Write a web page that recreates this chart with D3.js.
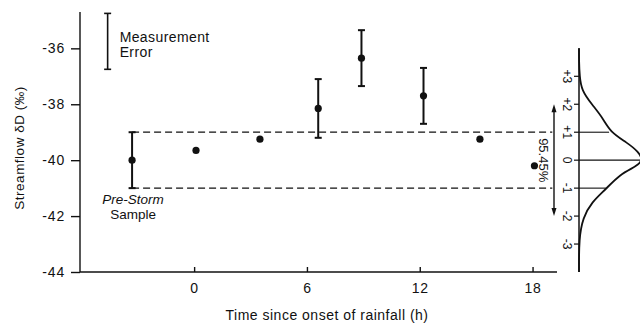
<!DOCTYPE html>
<html>
<head>
<meta charset="utf-8">
<script src="https://cdn.jsdelivr.net/npm/d3@7"></script>
<style>
  html, body { margin: 0; padding: 0; background: #fff; }
  svg { display: block; font-family: "Liberation Sans", Arial, sans-serif; }
  .axis path, .axis line { stroke: #111; stroke-width: 1.4; }
  .axis text { fill: #111; font-size: 14px; letter-spacing: 0.8px; }
</style>
</head>
<body>
<div id="chart"></div>
<script>
// samples: hours since onset of rainfall, streamflow dD (per mil), error (0 = no bar)
const times = [-3.3, 0.1, 3.5, 6.6, 8.9, 12.2, 15.2, 18.1];
const deltaD = [-40.0, -39.65, -39.25, -38.15, -36.35, -37.7, -39.25, -40.2];
const errors = [1.0, 0, 0, 1.05, 1.0, 1.0, 0, 0];

const xTicks = [0, 6, 12, 18];
const yTicks = [-36, -38, -40, -42, -44];

// pre-storm band (+-1 sigma) and its extent in time
const bandValues = [-39, -41];
const bandTime = [-3.3, 19.05];

// measurement error key
const errKeyTime = -4.6;
const errKeyValue = -35.75;
const errKeySize = 1.0;

// normal distribution panel (sigma units around the pre-storm mean)
const stormMean = -40;
const sigmaTicks = [3, 2, 1, 0, -1, -2, -3];
const sigmaLabels = ["+3", "+2", "+1", "0", "-1", "-2", "-3"];
const curveZ = [4.0, 3.55, 3.0, 2.5, 2.0, 1.5, 1.0, 0.63, 0.3, 0, -0.22, -0.5, -1.06, -1.5, -2.06, -2.8, -4.0];
const curveDensity = [0, 0, 0.01, 0.04, 0.2, 0.375, 0.49, 0.75, 0.93, 1, 0.9, 0.64, 0.41, 0.2, 0.06, 0, 0];
const guideZ = [1, 0, -1];
const guideDensity = [0.47, 1, 0.42];
const arrowZ = [2, -2];

const width = 640, height = 323;

const svg = d3.select("#chart")
  .append("svg")
  .attr("width", width)
  .attr("height", height);

const x = d3.scaleLinear().domain([-6.07, 19.3]).range([80, 557]);
const y = d3.scaleLinear().domain([-44, -34.7]).range([272, 12]);
const dens = d3.scaleLinear().domain([0, 1]).range([579, 643]);
const ink = "#111";

// Y axis
const yAxis = svg.append("g")
  .attr("class", "axis")
  .attr("transform", `translate(${x(-6.07)},0)`)
  .call(d3.axisLeft(y).tickValues(yTicks).tickSize(9).tickPadding(6).tickFormat(d => d));
yAxis.select(".domain").remove();
yAxis.append("line")
  .attr("y1", y(-34.7)).attr("y2", y(-44))
  .attr("stroke", ink).attr("stroke-width", 1.4);

// X axis, ticks point inward
const xAxis = svg.append("g")
  .attr("class", "axis")
  .attr("transform", `translate(0,${y(-44)})`)
  .call(d3.axisBottom(x).tickValues(xTicks).tickSizeInner(-5).tickSizeOuter(0).tickPadding(11));
xAxis.select(".domain").remove();
xAxis.append("line")
  .attr("x1", x(-6.07)).attr("x2", x(19.3))
  .attr("stroke", ink).attr("stroke-width", 1.4);

svg.append("text")
  .attr("x", 327)
  .attr("y", 320)
  .attr("text-anchor", "middle")
  .style("font-size", "14px")
  .style("letter-spacing", "0.5px")
  .attr("fill", ink)
  .text("Time since onset of rainfall (h)");

svg.append("text")
  .attr("transform", "translate(24,148) rotate(-90)")
  .attr("text-anchor", "middle")
  .style("font-size", "13.5px")
  .style("letter-spacing", "0.5px")
  .attr("fill", ink)
  .text("Streamflow \u03b4D (\u2030)");

// dashed pre-storm band
svg.append("g")
  .selectAll("line")
  .data(bandValues)
  .enter()
  .append("line")
  .attr("x1", x(bandTime[0]))
  .attr("x2", x(bandTime[1]))
  .attr("y1", d => y(d))
  .attr("y2", d => y(d))
  .attr("stroke", ink)
  .attr("stroke-width", 1.3)
  .attr("stroke-dasharray", "7,4");

// samples
const samples = times.map((t, i) => ({ t: t, v: deltaD[i], e: errors[i] }));
const cap = 3.5;

const bars = svg.append("g")
  .selectAll("g")
  .data(samples.filter(d => d.e > 0))
  .enter()
  .append("g")
  .attr("stroke", ink)
  .attr("stroke-width", 2);
bars.append("line")
  .attr("x1", d => x(d.t)).attr("x2", d => x(d.t))
  .attr("y1", d => y(d.v + d.e)).attr("y2", d => y(d.v - d.e));
bars.append("line")
  .attr("x1", d => x(d.t) - cap).attr("x2", d => x(d.t) + cap)
  .attr("y1", d => y(d.v + d.e)).attr("y2", d => y(d.v + d.e));
bars.append("line")
  .attr("x1", d => x(d.t) - cap).attr("x2", d => x(d.t) + cap)
  .attr("y1", d => y(d.v - d.e)).attr("y2", d => y(d.v - d.e));

svg.append("g")
  .selectAll("circle")
  .data(samples)
  .enter()
  .append("circle")
  .attr("cx", d => x(d.t))
  .attr("cy", d => y(d.v))
  .attr("r", 3.6)
  .attr("fill", ink);

// measurement error key
const key = svg.append("g").attr("stroke", ink).attr("stroke-width", 1.6);
key.append("line")
  .attr("x1", x(errKeyTime)).attr("x2", x(errKeyTime))
  .attr("y1", y(errKeyValue + errKeySize)).attr("y2", y(errKeyValue - errKeySize));
[errKeyValue + errKeySize, errKeyValue - errKeySize].forEach(v => {
  key.append("line")
    .attr("x1", x(errKeyTime) - cap).attr("x2", x(errKeyTime) + cap)
    .attr("y1", y(v)).attr("y2", y(v));
});
svg.append("text")
  .attr("x", x(errKeyTime) + 12)
  .attr("y", 42)
  .style("font-size", "14px")
  .style("letter-spacing", "0.4px")
  .attr("fill", ink)
  .text("Measurement")
  .append("tspan")
  .attr("x", x(errKeyTime) + 12)
  .attr("dy", 14.5)
  .text("Error");

// pre-storm label, one text per line
const preLines = ["Pre-Storm", "Sample"];
svg.append("g")
  .selectAll("text")
  .data(preLines)
  .enter()
  .append("text")
  .attr("x", x(-3.3) + 1)
  .attr("y", (d, i) => 204 + i * 15)
  .attr("text-anchor", "middle")
  .style("font-size", "13.5px")
  .style("font-style", (d, i) => i === 0 ? "italic" : "normal")
  .attr("fill", ink)
  .text(d => d);

// normal distribution panel
const zy = z => y(stormMean + z);
const panel = svg.append("g");

panel.append("line")
  .attr("x1", dens(0)).attr("x2", dens(0))
  .attr("y1", y(-36)).attr("y2", y(-44))
  .attr("stroke", ink).attr("stroke-width", 1.5);

panel.selectAll(".sig-tick")
  .data(sigmaTicks)
  .enter()
  .append("line")
  .attr("x1", dens(0) - 5).attr("x2", dens(0))
  .attr("y1", d => zy(d)).attr("y2", d => zy(d))
  .attr("stroke", ink).attr("stroke-width", 1.2);

panel.selectAll(".sig-label")
  .data(sigmaTicks)
  .enter()
  .append("text")
  .attr("transform", d => `translate(${dens(0) - 12},${zy(d)}) rotate(90)`)
  .attr("text-anchor", "middle")
  .attr("dy", "0.35em")
  .style("font-size", "12px")
  .attr("fill", ink)
  .text((d, i) => sigmaLabels[i]);

panel.selectAll(".guide")
  .data(guideZ)
  .enter()
  .append("line")
  .attr("x1", dens(0))
  .attr("x2", (d, i) => dens(guideDensity[i]))
  .attr("y1", d => zy(d)).attr("y2", d => zy(d))
  .attr("stroke", ink).attr("stroke-width", 1.1);

const curve = d3.line()
  .x((d, i) => dens(curveDensity[i]))
  .y(d => zy(d))
  .curve(d3.curveBasis);
panel.append("path")
  .attr("d", curve(curveZ))
  .attr("fill", "none")
  .attr("stroke", ink)
  .attr("stroke-width", 1.8);

// 95.45% double arrow
const arrowX = 554;
panel.append("line")
  .attr("x1", arrowX).attr("x2", arrowX)
  .attr("y1", zy(arrowZ[0]) + 4).attr("y2", zy(arrowZ[1]) - 4)
  .attr("stroke", ink).attr("stroke-width", 1.4);
arrowZ.forEach((z, i) => {
  const tip = zy(z);
  const dir = i === 0 ? 1 : -1;
  panel.append("path")
    .attr("d", `M${arrowX},${tip} L${arrowX - 2.5},${tip + dir * 8} L${arrowX + 2.5},${tip + dir * 8} Z`)
    .attr("fill", ink);
});
panel.append("text")
  .attr("transform", `translate(${arrowX - 10},${zy(0)}) rotate(90)`)
  .attr("text-anchor", "middle")
  .attr("dy", "0.35em")
  .style("font-size", "13px")
  .attr("fill", ink)
  .text("95.45%");
</script>
</body>
</html>
